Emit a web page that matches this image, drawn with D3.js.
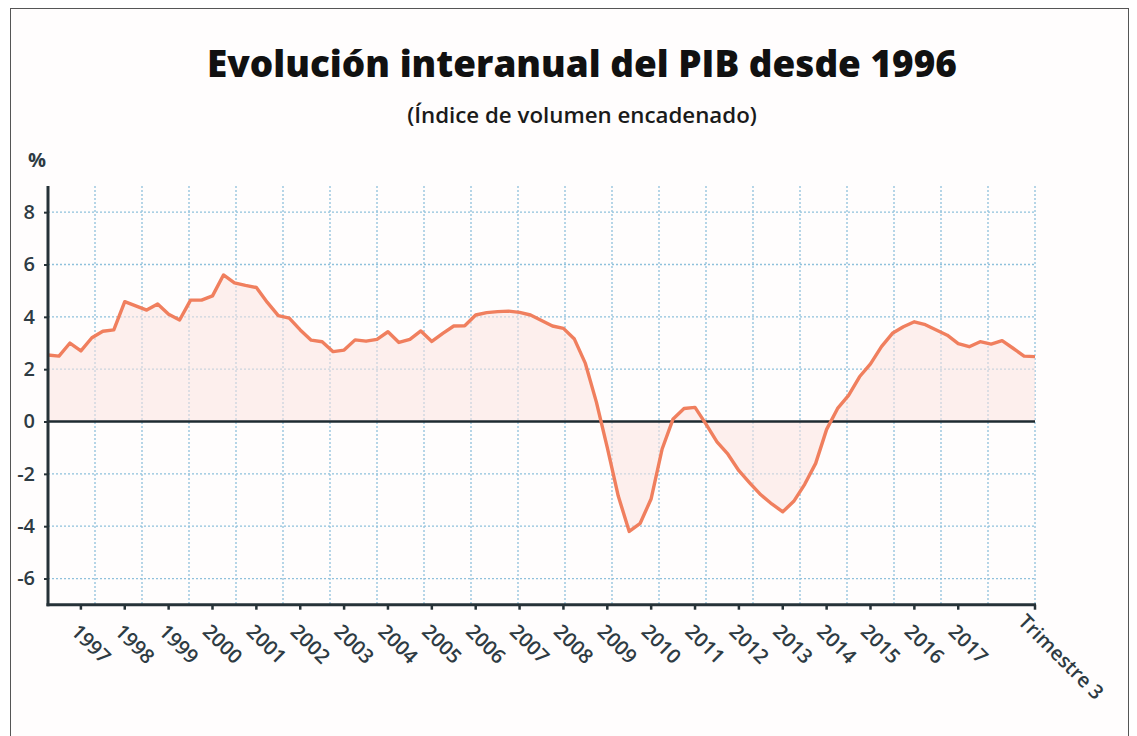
<!DOCTYPE html>
<html><head><meta charset="utf-8">
<script src="https://cdn.jsdelivr.net/npm/d3@7"></script>
<style>
body{margin:0;background:#fff;}
svg{display:block;font-family:'Open Sans',sans-serif;}
</style>
</head><body>
<svg id="chart" width="1137" height="736"></svg>
<script>
// ---- data ----
const titleText = "Evolución interanual del PIB desde 1996";
const subtitleText = "(Índice de volumen encadenado)";
const unitLabel = "%";
// quarterly year-on-year GDP growth (%)
const growth = [
  2.54, 2.50, 3.00, 2.70, 3.20, 3.45, 3.50, 4.58, 4.42, 4.26,
  4.49, 4.10, 3.88, 4.64, 4.64, 4.80, 5.60, 5.30, 5.20, 5.12,
  4.55, 4.05, 3.95, 3.50, 3.11, 3.05, 2.67, 2.73, 3.12, 3.07,
  3.14, 3.43, 3.02, 3.14, 3.46, 3.06, 3.37, 3.65, 3.66, 4.07,
  4.16, 4.20, 4.22, 4.17, 4.07, 3.86, 3.65, 3.56, 3.15, 2.22,
  0.75, -1.00, -2.85, -4.20, -3.89, -2.95, -1.05, 0.10, 0.50, 0.54,
  -0.10, -0.78, -1.25, -1.88, -2.35, -2.80, -3.15, -3.45, -3.05, -2.40,
  -1.60, -0.30, 0.50, 1.00, 1.71, 2.20, 2.86, 3.37, 3.62, 3.81,
  3.70, 3.50, 3.30, 2.98, 2.86, 3.05, 2.96, 3.09, 2.80, 2.50,
  2.48
];
const yearLabels = ["1997","1998","1999","2000","2001","2002","2003","2004","2005","2006",
  "2007","2008","2009","2010","2011","2012","2013","2014","2015","2016","2017"];
const lastLabel = "Trimestre 3";
const firstYearIndex = 3;   // data index of first year tick
const quartersPerYear = 4;
const yTicks = [-6, -4, -2, 0, 2, 4, 6, 8];
const yDomain = [-7, 9];
const gridColumns = 21;

// ---- layout ----
const svg = d3.select("#chart");
const plot = {left: 48, right: 1035, top: 186, bottom: 604.7};
const lastIndex = growth.length - 1;

const x = d3.scaleLinear().domain([0, lastIndex]).range([plot.left, plot.right]);
const y = d3.scaleLinear().domain(yDomain).range([plot.bottom, plot.top]);

const textCol = "#2e3b43";
const gridCol = "#8fc1dc";
const lineCol = "#f07f5e";

// frame
svg.append("rect").attr("x", 10.5).attr("y", 8.5).attr("width", 1118).attr("height", 740)
  .attr("fill", "#fffdfd").attr("stroke", "#555").attr("stroke-width", 1);

// title
const t = svg.append("text").attr("x", 582).attr("y", 77).attr("text-anchor", "middle")
  .attr("font-weight", 800).attr("font-size", 35).attr("fill", "#111").text(titleText);
let tw = t.node().getComputedTextLength();
t.attr("font-size", 35 * 750 / tw);

const st = svg.append("text").attr("x", 582).attr("y", 123).attr("text-anchor", "middle")
  .attr("font-weight", 600).attr("font-size", 20).attr("fill", "#1a1a1a").text(subtitleText);
let sw = st.node().getComputedTextLength();
st.attr("font-size", 20 * 350 / sw);

svg.append("text").attr("x", 37).attr("y", 167).attr("text-anchor", "middle")
  .attr("font-weight", 700).attr("font-size", 20).attr("fill", textCol).text(unitLabel);

// grid
const g = svg.append("g");
g.selectAll("line.hg").data(yTicks.filter(v => v !== 0)).join("line")
  .attr("x1", plot.left).attr("x2", plot.right)
  .attr("y1", d => y(d)).attr("y2", d => y(d))
  .attr("stroke", gridCol).attr("stroke-width", 1.3).attr("stroke-dasharray", "2,2");
g.selectAll("line.vg").data(d3.range(1, gridColumns + 1)).join("line")
  .attr("x1", d => x(d * lastIndex / gridColumns)).attr("x2", d => x(d * lastIndex / gridColumns))
  .attr("y1", plot.top).attr("y2", plot.bottom)
  .attr("stroke", gridCol).attr("stroke-width", 1.3).attr("stroke-dasharray", "2,2");

// area fill toward zero
const area = d3.area().x((d, i) => x(i)).y0(y(0)).y1(d => y(d));
svg.append("path").datum(growth).attr("d", area).attr("fill", "#fbe4e0").attr("opacity", 0.55);

// zero line
svg.append("line").attr("x1", plot.left).attr("x2", plot.right).attr("y1", y(0)).attr("y2", y(0))
  .attr("stroke", "#1e2a30").attr("stroke-width", 2.6);

// data line
const line = d3.line().x((d, i) => x(i)).y(d => y(d));
svg.append("path").datum(growth).attr("d", line).attr("fill", "none")
  .attr("stroke", lineCol).attr("stroke-width", 3.4).attr("stroke-linejoin", "round");

// y axis
const yAxis = d3.axisLeft(y).tickValues(yTicks).tickSize(4).tickPadding(9).tickFormat(d => String(d));
const ya = svg.append("g").attr("transform", `translate(${plot.left},0)`).call(yAxis);
ya.select(".domain").remove();
ya.selectAll(".tick line").attr("stroke", "#263238").attr("stroke-width", 2);
ya.selectAll(".tick text").attr("font-family", "'Open Sans',sans-serif").attr("font-size", 20)
  .attr("font-weight", 600).attr("fill", textCol).attr("x", -13);
svg.append("line").attr("x1", plot.left).attr("x2", plot.left).attr("y1", plot.top).attr("y2", plot.bottom + 1.5)
  .attr("stroke", "#263238").attr("stroke-width", 3);

// x axis
const tickIdx = yearLabels.map((d, k) => firstYearIndex + k * quartersPerYear).concat([lastIndex]);
const tickLab = yearLabels.concat([lastLabel]);
svg.append("line").attr("x1", plot.left - 1.5).attr("x2", plot.right + 1).attr("y1", plot.bottom).attr("y2", plot.bottom)
  .attr("stroke", "#263238").attr("stroke-width", 3);
svg.selectAll("line.xt").data(tickIdx).join("line")
  .attr("x1", d => x(d)).attr("x2", d => x(d))
  .attr("y1", plot.bottom).attr("y2", plot.bottom + 5)
  .attr("stroke", "#263238").attr("stroke-width", 2.5);
svg.selectAll("text.xl").data(tickIdx).join("text")
  .attr("transform", (d, k) => k === tickIdx.length - 1
      ? `translate(${x(d) - 18},${plot.bottom + 18}) rotate(45)`
      : `translate(${x(d) - 11},${plot.bottom + 28}) rotate(45)`)
  .attr("font-size", 20).attr("font-weight", 600).attr("fill", textCol)
  .text((d, k) => tickLab[k]);
</script>
</body></html>
